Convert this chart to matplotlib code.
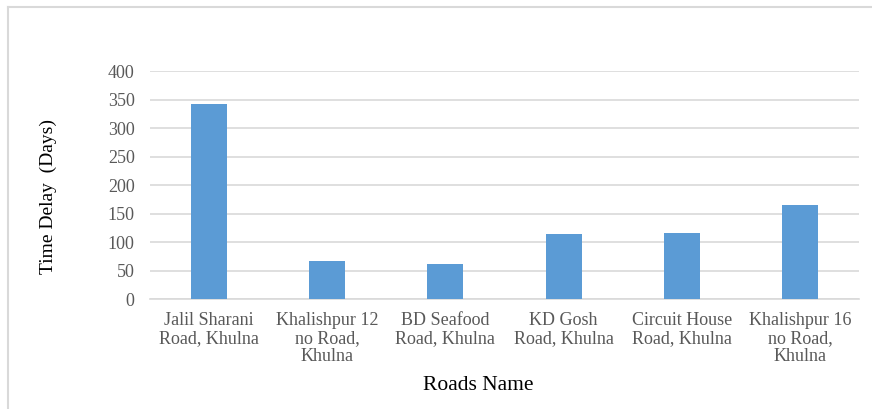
import matplotlib.pyplot as plt
from matplotlib.lines import Line2D

roads = ["Jalil Sharani\nRoad, Khulna", "Khalishpur 12\nno Road,\nKhulna",
         "BD Seafood\nRoad, Khulna", "KD Gosh\nRoad, Khulna",
         "Circuit House\nRoad, Khulna", "Khalishpur 16\nno Road,\nKhulna"]
delay_days = [342, 67, 61, 114, 117, 165]
yticks = [0, 50, 100, 150, 200, 250, 300, 350, 400]

plt.rcParams['font.family'] = ['Liberation Serif', 'DejaVu Serif']

fig = plt.figure(figsize=(8.72, 4.09), dpi=100)
ax = fig.add_axes([150/872, 1-299.3/409, 709/872, (299.3-71)/409])

x = range(len(roads))
ax.bar(x, delay_days, width=0.305, color="#5b9bd5", zorder=3)
ax.set_xlim(-0.5, len(roads)-0.5)
ax.set_ylim(0, 400)
ax.set_yticks(yticks)
ax.set_xticks(list(x))
ax.set_xticklabels(roads, fontsize=13, color="#595959", linespacing=1.08)
ax.tick_params(axis='y', labelsize=13, labelcolor="#595959", length=0, pad=11)
ax.tick_params(axis='x', length=0, pad=9)
ax.grid(axis='y', color="#d9d9d9", linewidth=1.2, zorder=0)
for s in ["top", "right", "left"]:
    ax.spines[s].set_visible(False)
ax.spines["bottom"].set_color("#d9d9d9")
ax.spines["bottom"].set_linewidth(1.2)

fig.text(48/872, 1-197/409, "Time Delay  (Days)", rotation=90, fontsize=14,
         ha="center", va="center")
fig.text(478/872, 1-385/409, "Roads Name", fontsize=15.5, ha="center", va="center")

# outer chart frame
fig.add_artist(Line2D([8/872, 1], [1-7/409, 1-7/409], color="#d9d9d9", lw=1.5))
fig.add_artist(Line2D([8/872, 8/872], [0, 1-7/409], color="#d9d9d9", lw=1.5))

fig.savefig("out.png", dpi=100)
